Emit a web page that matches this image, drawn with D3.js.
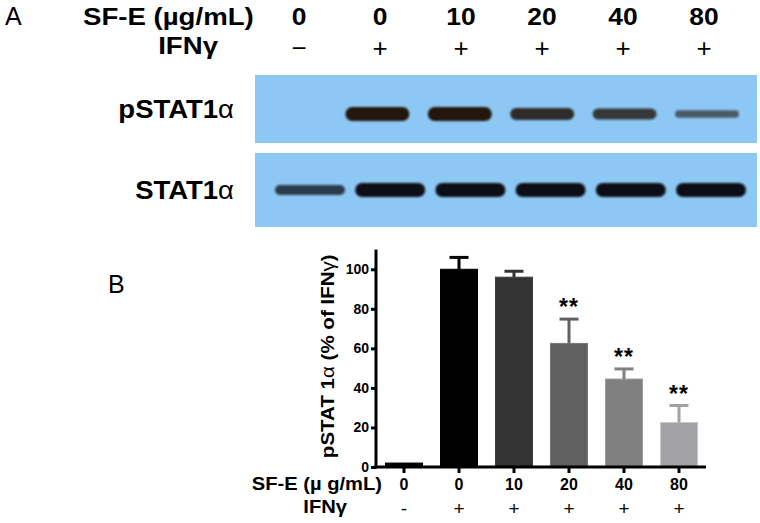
<!DOCTYPE html>
<html>
<head>
<meta charset="utf-8">
<script src="https://cdn.jsdelivr.net/npm/d3@7/dist/d3.min.js"></script>
<style>
  body { margin: 0; background: #fff; }
  text { font-family: "Liberation Sans", Arial, sans-serif; }
</style>
</head>
<body>
<script>
var lanes = ["0", "0", "10", "20", "40", "80"];
var ifnHead = ["\u2212", "+", "+", "+", "+", "+"];
var ifnChart = ["-", "+", "+", "+", "+", "+"];

// band strength read off the blot (0 = no band, 1 = strongest)
var pstatBands = [0, 1, 1, 0.78, 0.66, 0.3];
var statBands = [0.55, 1, 1, 1, 1, 1];

// quantification, % of IFNg
var means = [2, 100, 96, 62.5, 44.5, 22.5];
var sems = [0, 6, 3, 12.3, 5.1, 8.6];
var stars = ["", "", "", "**", "**", "**"];
var yTicks = [0, 20, 40, 60, 80, 100];
var barColors = ["#000000", "#000000", "#333333", "#606060", "#808080", "#a2a2a6"];

function graficar() {
    var w = 760;
    var h = 523;
    var sx = 1.15; // the figure's text is a little wide

    var svg = d3.select('body')
        .append('svg')
        .attr("width", w)
        .attr("height", h);

    var defs = svg.append("defs");
    defs.append("filter").attr("id", "blur")
        .attr("x", "-20%").attr("y", "-60%").attr("width", "140%").attr("height", "220%")
        .append("feGaussianBlur").attr("stdDeviation", 1.2);

    // ---------- panel A ----------
    svg.append("text").attr("x", 5).attr("y", 25)
        .attr("font-size", 25).text("A");

    var xHead = d3.scalePoint().domain(d3.range(lanes.length)).range([299, 704]);
    var xTop = d3.scalePoint().domain(d3.range(lanes.length)).range([295, 707]);
    var xBot = d3.scalePoint().domain(d3.range(lanes.length)).range([310, 711]);

    svg.append("text")
        .attr("transform", "translate(83,25) scale(" + sx + ",1)")
        .attr("font-size", 24).attr("font-weight", "bold")
        .text("SF-E (\u00b5g/mL)");

    svg.selectAll("text.headnum")
        .data(lanes)
        .enter()
        .append("text")
        .attr("class", "headnum")
        .attr("transform", function(d, i) {
            return "translate(" + xHead(i) + ",25) scale(1.1,1)";
        })
        .attr("text-anchor", "middle")
        .attr("font-size", 24).attr("font-weight", "bold")
        .text(function(d) { return d; });

    svg.append("text")
        .attr("transform", "translate(218,54) scale(" + sx + ",1)")
        .attr("text-anchor", "end")
        .attr("font-size", 24).attr("font-weight", "bold")
        .text("IFN\u03b3");

    svg.selectAll("text.headsign")
        .data(ifnHead)
        .enter()
        .append("text")
        .attr("class", "headsign")
        .attr("x", function(d, i) { return xHead(i); })
        .attr("y", 57)
        .attr("text-anchor", "middle")
        .attr("font-size", 26)
        .text(function(d) { return d; });

    var blots = [
        {name: "pSTAT1", bands: pstatBands, x: xTop, top: 75, bottom: 143, cy: 114, bw: 64, col: "#24190c"},
        {name: "STAT1", bands: statBands, x: xBot, top: 153, bottom: 227, cy: 190, bw: 70, col: "#0a0e12"}
    ];

    blots.forEach(function(b) {
        svg.append("rect")
            .attr("x", 255).attr("y", b.top)
            .attr("width", 757 - 255).attr("height", b.bottom - b.top)
            .attr("fill", "#8dc8f4");

        svg.append("g").selectAll("rect")
            .data(b.bands)
            .enter()
            .append("rect")
            .attr("x", function(d, i) { return b.x(i) - b.bw / 2; })
            .attr("y", function(d) { return b.cy - (5 + 9 * d) / 2; })
            .attr("width", b.bw)
            .attr("height", function(d) { return 5 + 9 * d; })
            .attr("rx", function(d) { return (5 + 9 * d) / 2; })
            .attr("fill", b.col)
            .attr("opacity", function(d) { return d == 0 ? 0 : 0.45 + 0.55 * d; })
            .attr("filter", "url(#blur)");

        var t = svg.append("text")
            .attr("transform", "translate(234," + ((b.top + b.bottom) / 2 + 9) + ") scale(1.1,1)")
            .attr("text-anchor", "end")
            .attr("font-size", 25);
        t.append("tspan").attr("font-weight", "bold").text(b.name);
        t.append("tspan").text("\u03b1");
    });

    // ---------- panel B ----------
    svg.append("text").attr("x", 108).attr("y", 293)
        .attr("font-size", 25).text("B");

    var y = d3.scaleLinear().domain([0, 110]).range([467, 249.5]);
    var x = d3.scaleBand().domain(d3.range(means.length))
        .range([385.5, 697.5]).paddingInner(0.327);
    var axisX0 = 376, axisX1 = 706;

    var rows = means.map(function(d, i) {
        return {i: i, v: d, e: sems[i], star: stars[i], col: barColors[i]};
    });
    function cx(d) { return x(d.i) + x.bandwidth() / 2; }

    svg.selectAll("rect.bar")
        .data(rows)
        .enter()
        .append("rect")
        .attr("class", "bar")
        .attr("x", function(d) { return x(d.i); })
        .attr("y", function(d) { return y(d.v); })
        .attr("width", x.bandwidth())
        .attr("height", function(d) { return y(0) - y(d.v); })
        .attr("fill", function(d) { return d.col; })
        .attr("stroke", function(d) { return d3.color(d.col).brighter(0.6); })
        .attr("stroke-width", 1);

    var err = svg.append("g").selectAll("g")
        .data(rows.filter(function(d) { return d.e > 0; }))
        .enter()
        .append("g")
        .attr("stroke", function(d) { return d.col; })
        .attr("stroke-width", 3);
    err.append("line")
        .attr("x1", cx).attr("x2", cx)
        .attr("y1", function(d) { return y(d.v); })
        .attr("y2", function(d) { return y(d.v + d.e); });
    err.append("line")
        .attr("x1", function(d) { return cx(d) - 9.5; })
        .attr("x2", function(d) { return cx(d) + 9.5; })
        .attr("y1", function(d) { return y(d.v + d.e); })
        .attr("y2", function(d) { return y(d.v + d.e); });

    svg.selectAll("text.star")
        .data(rows)
        .enter()
        .append("text")
        .attr("class", "star")
        .attr("x", cx)
        .attr("y", function(d) { return y(d.v + d.e) - 4; })
        .attr("text-anchor", "middle")
        .attr("font-size", 23).attr("font-weight", "bold")
        .attr("letter-spacing", 1)
        .text(function(d) { return d.star; });

    var gy = svg.append("g")
        .attr("transform", "translate(" + axisX0 + ",0)")
        .call(d3.axisLeft(y).tickValues(yTicks).tickSize(5).tickPadding(2));
    gy.select(".domain").remove();
    gy.selectAll("line").attr("stroke-width", 3);
    gy.selectAll("text").attr("font-size", 14).attr("font-weight", "bold")
        .attr("font-family", "Liberation Sans, Arial, sans-serif");
    gy.append("line")
        .attr("x1", 0).attr("x2", 0)
        .attr("y1", y(0) + 1.5).attr("y2", y(110))
        .attr("stroke", "#000").attr("stroke-width", 3);

    var gx = svg.append("g")
        .attr("transform", "translate(0," + y(0) + ")")
        .call(d3.axisBottom(x).tickSize(6).tickPadding(6)
            .tickFormat(function(i) { return lanes[i]; }));
    gx.select(".domain").remove();
    gx.selectAll("line").attr("stroke-width", 3);
    gx.selectAll("text").attr("font-size", 16).attr("font-weight", "bold")
        .attr("font-family", "Liberation Sans, Arial, sans-serif");
    gx.append("line")
        .attr("x1", axisX0 - 1.5).attr("x2", axisX1)
        .attr("y1", 0).attr("y2", 0)
        .attr("stroke", "#000").attr("stroke-width", 3);

    var yl = svg.append("text")
        .attr("transform", "translate(328," + y(56) + ") rotate(-90) scale(1.14,1)")
        .attr("text-anchor", "middle")
        .attr("dy", "0.35em")
        .attr("font-size", 18).attr("font-weight", "bold");
    yl.append("tspan").text("pSTAT 1");
    yl.append("tspan").attr("font-weight", "normal").text("\u03b1");
    yl.append("tspan").text(" (% of IFN");
    yl.append("tspan").attr("font-weight", "normal").text("\u03b3");
    yl.append("tspan").text(")");

    svg.append("text")
        .attr("transform", "translate(382,490) scale(1.12,1)")
        .attr("text-anchor", "end")
        .attr("font-size", 18).attr("font-weight", "bold")
        .text("SF-E (\u00b5 g/mL)");

    svg.append("text")
        .attr("transform", "translate(347,513) scale(1.12,1)")
        .attr("text-anchor", "end")
        .attr("font-size", 18).attr("font-weight", "bold")
        .text("IFN\u03b3");

    svg.selectAll("text.sign")
        .data(ifnChart)
        .enter()
        .append("text")
        .attr("class", "sign")
        .attr("x", function(d, i) { return x(i) + x.bandwidth() / 2; })
        .attr("y", 515)
        .attr("text-anchor", "middle")
        .attr("font-size", 19)
        .text(function(d) { return d; });
}

graficar();
</script>
</body>
</html>
